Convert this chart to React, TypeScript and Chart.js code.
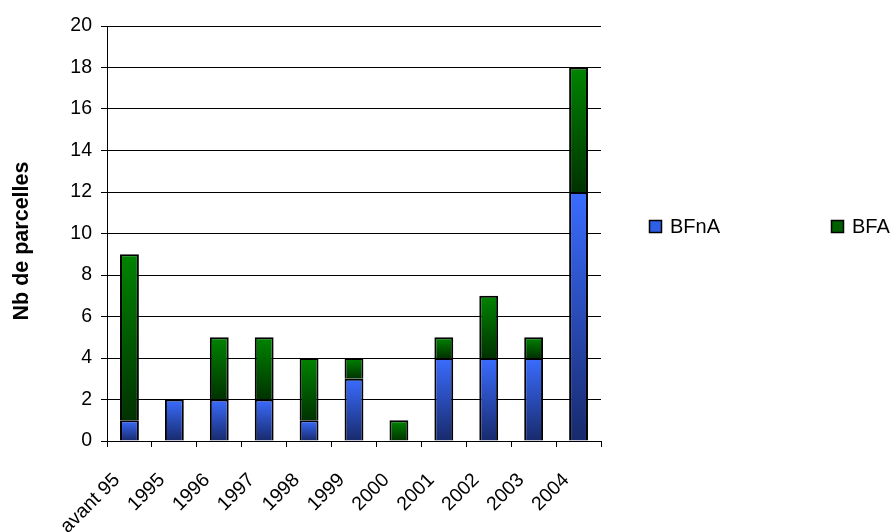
import React, { useEffect, useRef } from "react";
import { Chart, registerables } from "chart.js";
Chart.register(...registerables);

const categories = ["avant 95", "1995", "1996", "1997", "1998", "1999", "2000", "2001", "2002", "2003", "2004"];
const bfnaValues = [1, 2, 2, 2, 1, 3, 0, 4, 4, 4, 12];
const bfaValues = [8, 0, 3, 3, 3, 1, 1, 1, 3, 1, 6];
const seriesNames = ["BFnA", "BFA"];
const yMin = 0;
const yMax = 20;
const yStep = 2;
const yTitle = "Nb de parcelles";

const FONT = '"Liberation Sans", Arial, sans-serif';

const gradStops = [
  ["#3a6cff", "#182a6c"],
  ["#008400", "#003200"],
];
const legendFill = ["#2f5fe6", "#006000"];

export default function App() {
  const ref = useRef<HTMLCanvasElement | null>(null);

  useEffect(() => {
    document.body.style.margin = "0";
    const canvas = ref.current;
    if (!canvas) return;

    const segBounds = (dsIndex: number, i: number) => {
      if (dsIndex === 0) return [0, bfnaValues[i]];
      return [bfnaValues[i], bfnaValues[i] + bfaValues[i]];
    };

    const makeBg = (dsIndex: number) => (ctx: any) => {
      const chart = ctx.chart;
      const y = chart.scales && chart.scales.y;
      if (!y || ctx.type !== "data" || y.top === undefined) return gradStops[dsIndex][0];
      const [from, to] = segBounds(dsIndex, ctx.dataIndex);
      const top = y.getPixelForValue(to);
      const bot = y.getPixelForValue(from);
      if (!isFinite(top) || !isFinite(bot) || top === bot) return gradStops[dsIndex][0];
      const g = chart.ctx.createLinearGradient(0, top, 0, bot);
      g.addColorStop(0, gradStops[dsIndex][0]);
      g.addColorStop(1, gradStops[dsIndex][1]);
      return g;
    };

    const overlay = {
      id: "overlay",
      afterDraw(chart: any) {
        const c = chart.ctx;
        const xs = chart.scales.x;
        const area = chart.chartArea;
        c.save();
        c.fillStyle = "#000";
        // x labels
        c.font = `19.5px ${FONT}`;
        c.textAlign = "right";
        c.textBaseline = "middle";
        categories.forEach((lab, i) => {
          const x = xs.getPixelForValue(i);
          c.save();
          c.translate(x - 12.5, area.bottom + 36);
          c.rotate(-Math.PI / 4);
          c.fillText(lab, 0, 0);
          c.restore();
        });
        // y title
        c.save();
        c.font = `bold 21.5px ${FONT}`;
        c.textAlign = "center";
        c.textBaseline = "middle";
        c.translate(22, 241);
        c.rotate(-Math.PI / 2);
        c.fillText(yTitle, 0, 0);
        c.restore();
        // legend
        const items = [
          { x: 649, tx: 670 },
          { x: 831, tx: 852 },
        ];
        c.font = `20px ${FONT}`;
        c.textAlign = "left";
        c.textBaseline = "alphabetic";
        items.forEach((it, k) => {
          c.fillStyle = legendFill[k];
          c.fillRect(it.x, 220, 13, 13);
          c.strokeStyle = "#000";
          c.lineWidth = 1.5;
          c.strokeRect(it.x + 0.5, 220.5, 12, 12);
          c.fillStyle = "#000";
          c.fillText(seriesNames[k], it.tx, 233);
        });
        c.restore();
      },
    };

    const chart = new Chart(canvas, {
      type: "bar",
      data: {
        labels: categories,
        datasets: [
          {
            label: seriesNames[0],
            data: bfnaValues.map((v) => (v === 0 ? null : v)),
            backgroundColor: makeBg(0),
            borderColor: "#000",
            borderWidth: 2,
            barPercentage: 0.42,
            categoryPercentage: 1,
          },
          {
            label: seriesNames[1],
            data: bfaValues.map((v) => (v === 0 ? null : v)),
            backgroundColor: makeBg(1),
            borderColor: "#000",
            borderWidth: 2,
            barPercentage: 0.42,
            categoryPercentage: 1,
          },
        ],
      },
      options: {
        responsive: false,
        animation: false,
        devicePixelRatio: 1,
        layout: { padding: { left: 0, right: 293, top: 26, bottom: 0 } },
        plugins: {
          legend: { display: false },
          tooltip: { enabled: false },
        },
        scales: {
          x: {
            stacked: true,
            ticks: { display: false },
            grid: {
              drawOnChartArea: false,
              drawTicks: true,
              tickLength: 6,
              color: "#000",
              offset: true,
            },
            border: { display: true, color: "#000", width: 1 },
            afterFit: (s: any) => {
              s.height = 91;
            },
          },
          y: {
            stacked: true,
            min: yMin,
            max: yMax,
            ticks: {
              stepSize: yStep,
              color: "#000",
              padding: 9,
              font: { family: FONT, size: 19.5 },
            },
            grid: { color: "#000", lineWidth: 1, tickLength: 6, drawTicks: true },
            border: { display: true, color: "#000", width: 1 },
            afterFit: (s: any) => {
              s.width = 107;
            },
          },
        },
      },
      plugins: [overlay],
    });

    return () => {
      chart.destroy();
    };
  }, []);

  return (
    <div style={{ width: 894, height: 532 }}>
      <canvas ref={ref} width={894} height={532} style={{ display: "block" }} />
    </div>
  );
}
